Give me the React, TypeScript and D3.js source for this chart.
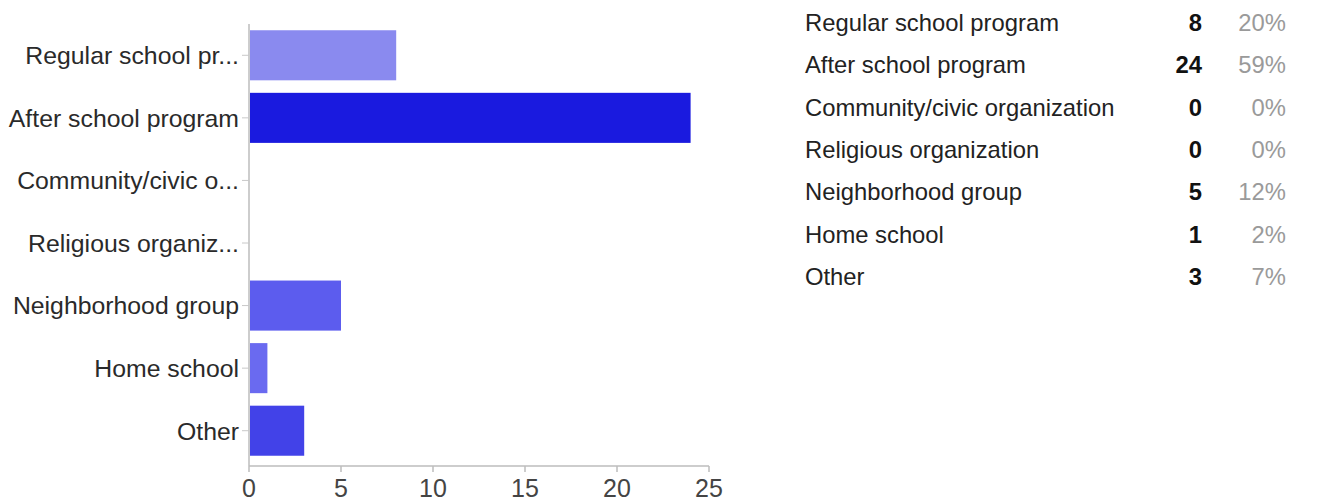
import React from "react";
import * as d3 from "d3";

const categories = [
  "Regular school program",
  "After school program",
  "Community/civic organization",
  "Religious organization",
  "Neighborhood group",
  "Home school",
  "Other",
];
const axisLabels = [
  "Regular school pr...",
  "After school program",
  "Community/civic o...",
  "Religious organiz...",
  "Neighborhood group",
  "Home school",
  "Other",
];
const counts = [8, 24, 0, 0, 5, 1, 3];
const percents = ["20%", "59%", "0%", "0%", "12%", "2%", "7%"];
const barColors = ["#8a8aef", "#1a1adf", "#7070ee", "#6666ee", "#5c5cee", "#6a6af0", "#4242e8"];
const xTicks = [0, 5, 10, 15, 20, 25];

const W = 1320;
const H = 502;
const FONT = "Arial, 'Liberation Sans', Helvetica, sans-serif";

export default function App() {
  const x = d3.scaleLinear().domain([0, 25]).range([249, 709]);
  const y = d3
    .scaleBand<string>()
    .domain(categories)
    .range([24, 462])
    .paddingInner(0.2)
    .paddingOuter(0.1);

  const rowY = d3.scaleLinear().domain([0, 6]).range([31, 285]);

  return (
    <svg
      width={W}
      height={H}
      style={{ position: "absolute", left: 0, top: 0, background: "#fff" }}
      fontFamily={FONT}
    >
      <rect x={0} y={0} width={W} height={H} fill="#fff" />
      {/* bars */}
      {categories.map((c, i) =>
        counts[i] > 0 ? (
          <rect
            key={c}
            x={x(0) + 1}
            y={y(c)}
            width={x(counts[i]) - x(0) - 1}
            height={y.bandwidth()}
            fill={barColors[i]}
          />
        ) : null
      )}
      {/* axes */}
      <line x1={x(0)} x2={x(0)} y1={24} y2={466} stroke="#bdbdbd" strokeWidth={1.5} />
      <line x1={x(0)} x2={x(25)} y1={466} y2={466} stroke="#bdbdbd" strokeWidth={1.5} />
      {xTicks.map((t) => (
        <g key={t}>
          <line x1={x(t)} x2={x(t)} y1={466} y2={472} stroke="#bdbdbd" strokeWidth={1.5} />
          <text x={x(t)} y={497} textAnchor="middle" fontSize={25} fill="#444">
            {t}
          </text>
        </g>
      ))}
      {categories.map((c, i) => {
        const cy = (y(c) as number) + y.bandwidth() / 2;
        return (
          <g key={c}>
            <line x1={242} x2={x(0)} y1={cy} y2={cy} stroke="#c8c8c8" strokeWidth={1} />
            <text x={239} y={cy} dy="0.36em" textAnchor="end" fontSize={24.8} fill="#2a2a2a">
              {axisLabels[i]}
            </text>
          </g>
        );
      })}
      {/* table */}
      {categories.map((c, i) => (
        <g key={"t" + c}>
          <text x={805} y={rowY(i)} fontSize={23.8} fill="#222">
            {c}
          </text>
          <text x={1202} y={rowY(i)} fontSize={23.8} fill="#111" fontWeight="bold" textAnchor="end">
            {counts[i]}
          </text>
          <text x={1286} y={rowY(i)} fontSize={23.8} fill="#9a9a9a" textAnchor="end">
            {percents[i]}
          </text>
        </g>
      ))}
    </svg>
  );
}
